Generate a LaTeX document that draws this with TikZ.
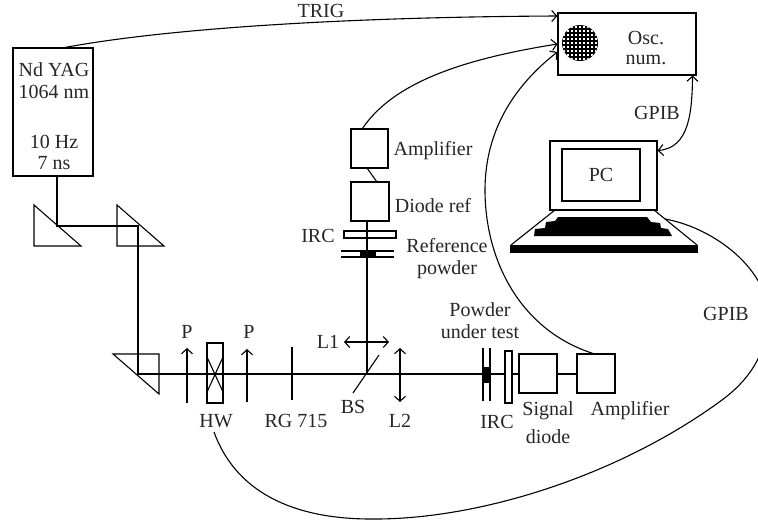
\documentclass[tikz,border=0pt]{standalone}
\usepackage{fontspec}
\setmainfont{Liberation Serif}
\usetikzlibrary{arrows.meta, positioning, calc}
\tikzset{
  ln/.style={draw=black, line width=1.1pt},
  box/.style={ln, inner sep=0pt, fill=white, align=center, font=\fontsize{20}{22}\selectfont},
  lbl/.style={inner sep=0pt, anchor=base, align=center, text=black!85, font=\fontsize{20}{22}\selectfont},
  txt/.style={inner sep=0pt, align=center, text=black!85, font=\fontsize{20}{22}\selectfont},
  arr/.style={ln, -{Straight Barb[length=5pt,width=11pt]}},
  arrs/.style={ln, {Straight Barb[length=5pt,width=11pt]}-{Straight Barb[length=5pt,width=11pt]}}
}
\begin{document}
\begin{tikzpicture}[x=1pt,y=-1pt]
\useasboundingbox (0,0) rectangle (758,525);
% beam path
\coordinate (bendA) at (57,226);
\coordinate (bendB) at (138,226);
\coordinate (bendC) at (138,374);
\coordinate (bsC) at (367,374);
\draw[ln] (57,176) -- (bendA) -- (bendB) -- (bendC) -- (577,374);
\draw[ln] (367,221) -- (bsC);
% prisms
\draw[ln] (34,205) -- (34,246) -- (81,246) -- cycle;
\draw[ln] (117,205) -- (117,246) -- (164,246) -- cycle;
\draw[ln] (113,354) -- (159,354) -- (159,394) -- cycle;
% laser
\node[box, minimum width=80pt, minimum height=128pt] (laser) at (53,112) {};
\node[lbl] (yag) at (54,76) {Nd YAG};
\node[lbl] (wave) at (54,98) {1064 nm};
\node[lbl] (freq) at (54,148) {10 Hz};
\node[lbl] (pulse) at (54,169) {7 ns};
% oscilloscope
\node[box, minimum width=138pt, minimum height=62pt] (osc) at (627,44) {};
\begin{scope}
\clip (580,43) circle (18);
\fill[black] (560,23) rectangle (600,63);
\foreach \i in {-5,...,5}
  \foreach \j in {-5,...,5}
    \fill[white] ({580+4*\i-1},{43+4*\j-1}) rectangle ++(2,2);
\end{scope}
\node[lbl] (osca) at (646,44.5) {Osc.};
\node[lbl] (oscb) at (646,64.5) {num.};
% PC
\node[box, minimum width=107pt, minimum height=69pt] (pc) at (603.5,175.5) {};
\node[box, text=black!85, line width=2.4pt, minimum width=78pt, minimum height=52pt] (pcscreen) at (601,175) {PC};
\draw[ln] (555,210) -- (511,245);
\draw[ln] (654,210) -- (697,245);
\fill[black] (510,245) rectangle (698,253);
\fill[black] (558,217) -- (647,217) -- (651,222) -- (660,223) -- (661,228) -- (668,229) -- (672,236)
  -- (534,236) -- (535,229) -- (545,228) -- (546,222) -- (555,221) -- cycle;
% upper branch
\node[box, minimum width=37pt, minimum height=39pt] (ampr) at (369.5,148.5) {};
\node[box, minimum width=38pt, minimum height=39pt] (dioder) at (370,201.5) {};
\draw[ln] (367,168) -- (377,182);
\draw[ln] (344,231) rectangle (396,238);
\draw[ln] (341,251) -- (394,251);
\draw[ln] (341,257) -- (394,257);
\fill[black] (360,251) rectangle (376,257);
\draw[ln] (367,221) -- (367,251);
% optics on the beam
\draw[arr] (187,403) -- (187,348);
\draw[ln] (207,343) rectangle (223,403);
\draw[ln] (207,357) -- (223,392);
\draw[ln] (223,357) -- (207,392);
\draw[arr] (247,402) -- (247,349);
\draw[ln] (292,347) -- (292,400);
\draw[ln] (353,393) -- (379,355);
\draw[arrs] (344,342) -- (389,342);
\draw[arrs] (400,348) -- (400,402);
\draw[ln] (483,348) -- (483,401);
\draw[ln] (490,348) -- (490,401);
\fill[black] (483,367) rectangle (489,383);
\node[box, minimum width=7pt, minimum height=52pt] (ircb) at (508.5,377) {};
\node[box, minimum width=38pt, minimum height=39pt] (diodes) at (538,373.5) {};
\node[box, minimum width=38pt, minimum height=39pt] (ampb) at (596,373.5) {};
\draw[ln] (diodes) -- (ampb);
% connectors
\coordinate (hwend) at (214,432);
\draw[arr] ([xshift=12pt]laser.north) .. controls (170,28) and (350,17) .. ([yshift=28pt]osc.west);
\draw[arr] ([xshift=-7pt]ampr.north) .. controls (395,80) and (470,58) .. (osc.west);
\draw[arr] ([xshift=-3pt]ampb.north) .. controls (520,330) and (485,260) .. (485,190)
  .. controls (485,130) and (515,85) .. ([yshift=-8pt]osc.west);
\draw[arrs] ([xshift=-4pt]osc.south east) .. controls (692,110) and (690,148) .. ([yshift=25pt]pc.east);
\draw[ln] (665,219) .. controls (715,228) and (768,270) .. (768,315)
  .. controls (768,345) and (756,375) .. (722,400)
  .. controls (620,475) and (480,520) .. (371,519)
  .. controls (290,519) and (235,490) .. (hwend);
% labels
\node[lbl] (trig) at (321,17) {TRIG};
\node[lbl] (gpiba) at (657,119) {GPIB};
\node[lbl] (gpibb) at (726,320) {GPIB};
\node[lbl] (ampt) at (433,155) {Amplifier};
\node[lbl] (diot) at (433,212) {Diode ref};
\node[lbl] (irct) at (318,242) {IRC};
\node[txt] (reft) at (447,259) {Reference\\powder};
\node[txt] (powt) at (480,321) {Powder\\under test};
\node[lbl] (pa) at (187,338) {P};
\node[lbl] (pb) at (249,338) {P};
\node[lbl] (lone) at (328,348) {L1};
\node[lbl] (hw) at (216,427) {HW};
\node[lbl] (rg) at (296,427) {RG 715};
\node[lbl] (bs) at (353,413) {BS};
\node[lbl] (ltwo) at (400,427) {L2};
\node[lbl] (irc) at (497,428) {IRC};
\node[txt] (sigt) at (548,423) {Signal\\[6pt]diode};
\node[lbl] (ampl) at (630,415) {Amplifier};
\end{tikzpicture}
\end{document}
